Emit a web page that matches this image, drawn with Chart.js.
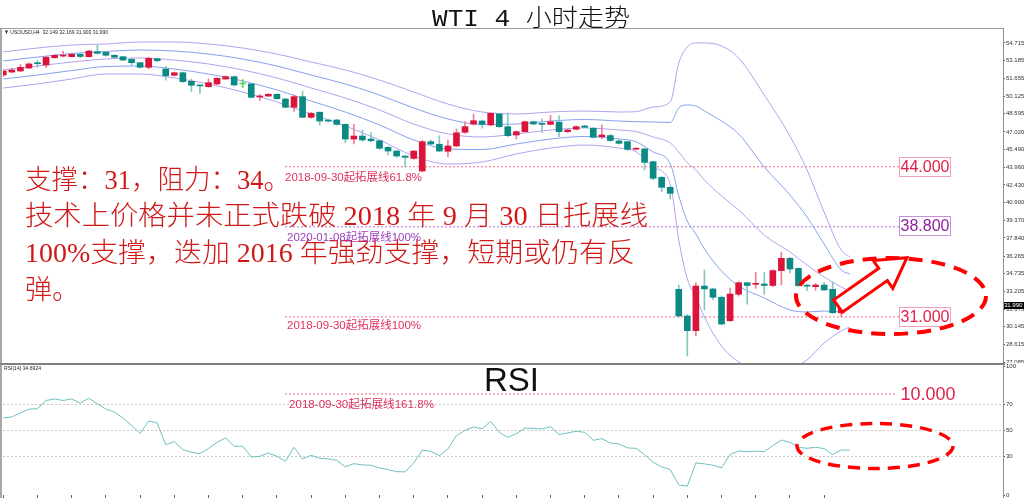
<!DOCTYPE html>
<html lang="zh">
<head>
<meta charset="utf-8"/>
<title>WTI 4 小时走势</title>
<script src="https://cdn.jsdelivr.net/npm/chart.js@4.4.1/dist/chart.umd.min.js"></script>
<style>
  body { margin: 0; background: #fff; font-family: "Liberation Sans", Arial, sans-serif; }
  .page { position: relative; width: 1024px; height: 498px; overflow: hidden; background: #fff; }
  .abs { position: absolute; white-space: nowrap; transform-origin: left top; }
  .frame { position: absolute; }
  #mainWrap { position: absolute; left: 0; top: 29px; width: 1024px; height: 334px; }
  #rsiWrap { position: absolute; left: 0; top: 363px; width: 1024px; height: 135px; }
  .big { font-family: "Liberation Serif", "Noto Sans CJK SC", serif; font-size: 27px; font-weight: 300; color: #d01818; }
  .note { font-family: "Liberation Sans", "Noto Sans CJK SC", sans-serif; font-size: 11px; }
  .box { position: absolute; font-size: 16px; text-align: center; line-height: 18px; box-sizing: border-box; }
  .tiny { font-size: 6px; color: #222; }
</style>
</head>
<body>
<div class="page">
  <div id="mainWrap"><canvas id="mainChart"></canvas></div>
  <div id="rsiWrap"><canvas id="rsiChart"></canvas></div>

  <!-- panel frame -->
  <div class="frame" style="left:0;top:28px;width:1004px;height:1px;background:#a0a0a0"></div>
  <div class="frame" style="left:0;top:28px;width:2px;height:470px;background:#a8a8a8"></div>
  <div class="frame" style="left:1003px;top:28px;width:1px;height:470px;background:#909090"></div>
  <div class="frame" style="left:0;top:363px;width:1005px;height:2px;background:#808080"></div>

  <div class="abs" data-fit="198" style="left:432px;top:-2px;font-family:'Liberation Mono','Noto Sans CJK SC',monospace;font-size:24px;font-weight:300;color:#111">WTI 4 小时走势</div>
  <div class="abs tiny" data-fit="104" style="left:4px;top:29px">▼ USOUSD,H4&nbsp; 32.149 32.169 31.903 31.990</div>
  <div class="abs tiny" data-fit="37" style="left:4px;top:365px">RSI(14) 34.6924</div>
  <div class="abs" style="left:484px;top:361px;font-size:33px;color:#111">RSI</div>

  <div class="abs big" data-fit="265" style="left:25px;top:158px">支撑：31，阻力：34。</div>
  <div class="abs big" data-fit="623" style="left:25px;top:194px">技术上价格并未正式跌破 2018 年 9 月 30 日托展线</div>
  <div class="abs big" data-fit="610" style="left:25px;top:231px">100%支撑，迭加 2016 年强劲支撑，短期或仍有反</div>
  <div class="abs big" style="left:25px;top:268px">弹。</div>

  <div class="abs note" data-fit="137" style="left:285px;top:168px;color:#e0305a">2018-09-30起拓展线61.8%</div>
  <div class="abs note" data-fit="134" style="left:287px;top:228px;color:#a040c0">2020-01-08起拓展线100%</div>
  <div class="abs note" data-fit="134" style="left:287px;top:316px;color:#e0305a">2018-09-30起拓展线100%</div>
  <div class="abs note" data-fit="145" style="left:289px;top:395px;color:#e0305a">2018-09-30起拓展线161.8%</div>

  <div class="box" style="left:899px;top:157px;width:52px;height:20px;border:1px solid #f0a0b8;color:#e0204a">44.000</div>
  <div class="box" style="left:899px;top:216px;width:52px;height:20px;border:1px solid #c890d8;color:#9020a0">38.800</div>
  <div class="box" style="left:899px;top:307px;width:52px;height:20px;border:1px solid #f0a0b8;color:#e0204a">31.000</div>
  <div class="box" style="left:900px;top:385px;width:56px;height:20px;font-size:18px;color:#e0204a">10.000</div>

  <div class="abs tiny" style="left:1004px;top:302px;width:20px;height:7px;background:#000;color:#fff;line-height:7px">31.990</div>

  <svg class="abs" style="left:0;top:0" width="1024" height="498">
    <ellipse cx="891" cy="296" rx="95" ry="38" fill="none" stroke="#ff0000" stroke-width="4" stroke-dasharray="14 9"/>
    <ellipse cx="875" cy="446" rx="78" ry="22.5" fill="none" stroke="#ff0000" stroke-width="3.5" stroke-dasharray="12 8"/>
    <polygon transform="translate(838,306) rotate(-35)" points="0,-7.5 55,-7.5 55,-17 84,0 55,17 55,7.5 0,7.5"
             fill="#ffffff" stroke="#ff0000" stroke-width="3" stroke-linejoin="miter"/>
  </svg>
</div>

<script>
// candles, one per 4h bar, oldest first
const opens  = [51.94,52.20,52.29,52.55,52.96,52.81,53.44,53.58,53.53,53.74,
                53.53,53.96,53.91,53.65,53.53,53.30,53.01,52.61,53.35,52.46,
                51.92,52.14,51.40,51.06,50.93,51.17,51.60,51.80,51.17,51.17,
                50.04,50.12,50.27,49.87,49.15,50.07,48.28,48.72,48.00,48.05,
                47.67,46.40,46.66,46.40,46.25,45.68,45.36,44.93,44.72,43.63,
                46.17,45.95,45.34,45.80,46.98,47.70,47.96,47.62,48.57,47.47,
                46.75,47.04,47.90,47.76,47.67,47.87,47.04,47.25,47.53,47.33,
                46.60,46.70,46.23,46.17,45.52,45.54,44.44,43.09,42.22,33.39,
                31.08,29.81,33.67,33.42,32.70,30.67,32.96,33.96,33.82,33.85,
                33.72,35.01,36.07,35.20,33.70,33.62,33.76,33.39,31.36,32.149];
const highs  = [52.38,52.55,52.85,53.00,53.20,53.55,53.72,54.02,53.80,53.85,
                54.08,54.54,53.98,53.72,53.55,53.42,53.05,53.50,53.40,52.70,
                52.20,52.20,51.60,51.10,51.60,51.70,51.88,51.85,51.55,51.20,
                50.27,50.35,50.32,49.90,50.20,50.55,48.70,48.75,48.10,48.10,
                47.70,47.67,47.18,46.95,46.30,45.75,45.45,44.95,45.40,46.30,
                46.32,46.70,46.30,47.27,47.92,48.57,48.05,48.66,48.60,48.66,
                47.10,47.95,47.96,48.15,48.45,48.40,47.25,47.55,47.60,47.40,
                47.62,46.80,46.30,46.20,45.65,45.60,44.50,43.14,42.30,33.76,
                31.20,33.96,35.06,33.50,32.80,33.49,34.05,34.00,34.85,34.85,
                35.10,36.60,36.15,35.25,33.85,33.90,33.98,34.02,32.20,32.169];
const lows   = [51.80,52.15,52.25,52.50,52.62,52.60,53.40,53.50,53.50,53.45,
                53.50,53.75,53.58,53.40,53.20,52.75,52.55,52.48,53.10,51.50,
                51.85,51.30,50.50,50.35,50.90,51.10,51.55,51.00,50.85,49.95,
                49.72,50.08,49.85,49.10,48.80,48.25,48.20,47.60,47.85,47.60,
                46.08,45.97,46.20,46.15,45.50,45.02,44.80,43.98,44.65,43.55,
                45.90,45.30,44.87,45.75,46.90,47.60,47.33,47.55,47.40,46.60,
                46.40,47.00,47.65,46.98,47.62,46.60,46.98,47.20,47.38,46.50,
                46.40,46.20,45.95,45.40,45.45,43.72,42.85,41.84,41.21,30.95,
                27.61,29.35,31.60,32.50,30.30,30.60,32.80,32.10,33.47,32.95,
                33.60,33.76,34.80,33.65,33.27,33.30,33.30,31.30,30.98,31.903];
const closes = [52.29,52.38,52.61,52.90,52.92,53.48,53.65,53.62,53.74,53.55,
                54.02,53.82,53.65,53.48,53.24,53.01,52.61,53.39,53.18,51.88,
                52.14,51.37,51.05,51.00,51.28,51.66,51.80,51.08,51.17,50.01,
                50.07,50.27,49.89,49.15,50.07,48.28,48.63,47.96,47.96,47.67,
                46.40,46.66,46.32,46.25,45.60,45.36,44.93,44.82,45.36,46.17,
                45.97,45.36,45.80,46.94,47.47,47.99,47.67,48.63,47.47,46.69,
                47.04,47.90,47.70,47.67,47.90,47.04,47.18,47.47,47.42,46.55,
                46.75,46.27,46.03,45.51,45.56,44.38,43.00,42.22,41.70,31.08,
                29.81,33.67,33.42,32.70,30.38,32.98,33.96,33.72,33.86,33.72,
                35.01,36.07,35.15,33.70,33.66,33.76,33.33,31.36,32.18,31.990];

// bollinger lines, read at these bars
const bandIdx   = [0,4,8,12,16,20,24,28,32,36,40,44,48,52,56,60,64,68,72,74,76,78,79,80,81,82,84,86,89,92,94,96,98,99];
const bandUp2   = [53.94,54.28,54.54,54.63,54.80,54.80,54.63,54.28,53.76,53.07,52.38,51.51,50.47,49.43,48.74,48.57,48.74,48.83,48.74,48.77,49.17,49.61,52.98,54.37,54.72,54.72,54.46,53.42,50.21,46.66,43.72,40.08,36.79,36.19];
const bandUp1   = [53.16,53.50,53.81,53.98,54.11,54.02,53.76,53.33,52.72,51.94,51.17,50.21,49.09,48.14,47.66,47.70,47.96,48.09,47.96,47.90,47.88,47.83,49.09,49.35,49.26,48.83,47.96,46.84,43.98,41.56,39.65,37.31,35.06,34.72];
const bandMid   = [52.38,52.72,53.07,53.33,53.42,53.24,52.90,52.38,51.69,50.82,49.95,48.91,47.70,46.84,46.58,46.84,47.18,47.36,47.18,47.04,46.58,46.06,45.28,44.33,43.72,42.85,41.47,40.26,38.09,36.62,35.49,34.46,33.59,33.24];
const bandLow1  = [51.60,51.94,52.33,52.68,52.72,52.46,52.03,51.43,50.65,49.69,48.74,47.62,46.32,45.54,45.49,45.97,46.40,46.62,46.40,46.17,45.28,44.28,41.47,39.30,38.18,36.88,34.97,33.68,32.64,31.60,31.43,31.51,31.43,31.69];
const bandLow2  = [50.82,51.17,51.60,52.03,52.03,51.69,51.17,50.47,49.61,48.57,47.53,46.32,44.93,44.24,44.41,45.11,45.62,45.88,45.62,45.30,43.98,42.51,37.66,34.28,32.72,30.99,28.48,27.10,26.23,26.58,27.27,28.74,29.78,30.13];

const rsiValues = [59.7,60.5,63.6,66.6,66.9,73.3,74.4,73.3,74.4,71.3,
                   74.9,70.8,66.6,64.3,59.7,54.0,47.6,57.4,55.8,39.0,
                   41.4,35.2,33.1,32.1,36.0,40.8,44.2,37.8,37.8,29.5,
                   30.0,32.6,30.0,26.1,37.0,28.0,30.8,28.5,28.0,26.9,
                   21.8,24.3,23.3,23.1,21.0,19.7,18.1,17.9,24.9,34.7,
                   33.9,30.5,35.7,46.0,50.1,52.7,51.4,57.1,48.6,44.7,
                   47.5,51.9,51.7,51.2,53.0,46.8,48.1,49.4,48.6,42.4,
                   43.7,40.3,39.6,36.5,36.2,31.3,25.4,21.8,19.7,7.8,
                   6.8,24.9,24.1,23.1,21.0,31.3,34.1,33.6,33.9,33.6,
                   38.3,42.6,40.8,37.0,36.2,37.0,36.0,31.3,34.9,34.69];

const priceTicks = [54.715,53.185,51.655,50.125,48.595,47.020,45.490,43.960,42.430,40.900,
                    39.370,37.840,36.265,34.735,33.205,31.675,30.145,28.615,27.085];
const rsiTicks = [0,30,50,70,100];
const rsiLevels = [30,50,70];
const timeTicks = [0,4,8,12,16,20,24,28,32,36,40,44,48,52,56,60,64,68,72,76,80,84,88,92,96];

// expansion levels
const level618 = 44.0, level2020 = 38.8, level100 = 31.0, level1618Rsi = 78.3;
const levelFrom = 32.95, levelTo = 104.76;

const X_MIN = -0.035, X_MAX = 116.92;
const BULL = '#dc143c', BEAR = '#0b8a84', DOJI = '#5ad65a';
const BULL_WICK = '#ef7f95', BEAR_WICK = '#86c6c3';
const PURPLE = '#b2a2ee', BLUE = '#86a0f2';

Chart.defaults.font.family = "'Liberation Sans', Arial, sans-serif";

const bodies = opens.map((o, i) => ({x: i, y: [o, closes[i]]}));
const wicks = opens.map((o, i) => ({x: i, y: [lows[i], highs[i]]}));
const dir = opens.map((o, i) => closes[i] > o ? 1 : closes[i] < o ? -1 : 0);
const bodyColors = dir.map(d => d > 0 ? BULL : d < 0 ? BEAR : DOJI);
const wickColors = dir.map(d => d > 0 ? BULL_WICK : d < 0 ? BEAR_WICK : DOJI);

function band(arr, color) {
  return {
    type: 'line',
    data: bandIdx.map((x, k) => ({x: x, y: arr[k]})),
    borderColor: color, borderWidth: 1, pointRadius: 0,
    cubicInterpolationMode: 'monotone', order: 5
  };
}
function level(value, color) {
  return {
    type: 'line',
    data: [{x: levelFrom, y: value}, {x: levelTo, y: value}],
    borderColor: color, borderWidth: 1, borderDash: [2, 2], pointRadius: 0, order: 6
  };
}

function tightY(scale) { scale.width = 21; scale.paddingTop = 0; scale.paddingBottom = 0; }

new Chart(document.getElementById('mainChart'), {
  type: 'bar',
  data: {
    datasets: [
      band(bandUp2, PURPLE), band(bandUp1, BLUE), band(bandMid, PURPLE),
      band(bandLow1, BLUE), band(bandLow2, PURPLE),
      level(level618, '#ea6a86'), level(level2020, '#b868c8'), level(level100, '#ea6a86'),
      {type: 'bar', data: wicks, backgroundColor: wickColors, barThickness: 1, grouped: false, order: 2},
      {type: 'bar', data: bodies, backgroundColor: bodyColors, barThickness: 6, minBarLength: 1, grouped: false, order: 1}
    ]
  },
  options: {
    responsive: true, maintainAspectRatio: false, animation: false,
    layout: {padding: {left: 3, top: 0, right: 0, bottom: 0}},
    plugins: {legend: {display: false}, tooltip: {enabled: false}},
    scales: {
      x: {type: 'linear', min: X_MIN, max: X_MAX, offset: false, display: false},
      y: {
        position: 'right', min: 27.009, max: 55.927,
        afterBuildTicks: s => { s.ticks = priceTicks.map(v => ({value: v})); },
        afterFit: tightY,
        ticks: {autoSkip: false, font: {size: 6}, color: '#333', padding: 1, callback: v => v.toFixed(3)},
        grid: {drawOnChartArea: false, drawTicks: true, tickLength: 2, color: '#555'},
        border: {display: false}
      }
    }
  }
});

new Chart(document.getElementById('rsiChart'), {
  type: 'line',
  data: {
    datasets: [
      {data: rsiValues.map((v, i) => ({x: i, y: v})), borderColor: '#6fbfbf', borderWidth: 1, pointRadius: 0, tension: 0},
      {data: [{x: levelFrom, y: level1618Rsi}, {x: 104.5, y: level1618Rsi}], borderColor: '#ea6a86', borderWidth: 1, borderDash: [2, 2], pointRadius: 0}
    ]
  },
  options: {
    responsive: true, maintainAspectRatio: false, animation: false,
    layout: {padding: {left: 3, top: 3, right: 0, bottom: 0}},
    plugins: {legend: {display: false}, tooltip: {enabled: false}},
    scales: {
      x: {
        type: 'linear', min: X_MIN, max: X_MAX, offset: false,
        afterBuildTicks: s => { s.ticks = timeTicks.map(v => ({value: v})); },
        afterFit: s => { s.height = 3; s.paddingLeft = 0; s.paddingRight = 0; },
        ticks: {display: false},
        grid: {drawOnChartArea: false, drawTicks: true, tickLength: 3, color: '#666'},
        border: {display: false}
      },
      y: {
        position: 'right', min: 0, max: 100,
        afterBuildTicks: s => { s.ticks = rsiTicks.map(v => ({value: v})); },
        afterFit: tightY,
        ticks: {autoSkip: false, font: {size: 6}, color: '#333', padding: 1},
        grid: {
          color: c => rsiLevels.includes(c.tick && c.tick.value) ? '#c8c8c8' : 'rgba(0,0,0,0)',
          tickColor: '#555', drawTicks: true, tickLength: 2
        },
        border: {display: false, dash: [2, 2]}
      }
    }
  }
});

// squeeze overlay texts to the widths they have in the picture
document.querySelectorAll('[data-fit]').forEach(el => {
  const w = el.getBoundingClientRect().width;
  el.style.transform = 'scaleX(' + (Number(el.dataset.fit) / w) + ')';
});
</script>
</body>
</html>
